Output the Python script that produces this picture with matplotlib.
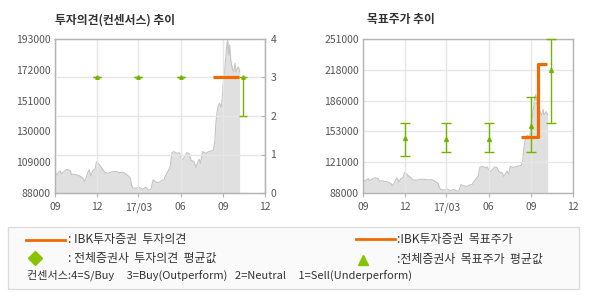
import numpy as np
import pandas as pd
import matplotlib
matplotlib.use("Agg")
import matplotlib.pyplot as plt
from matplotlib.lines import Line2D
from matplotlib.patches import Rectangle

plt.rcParams['font.family'] = ['Noto Sans CJK KR', 'DejaVu Sans']

# daily close
price_dates = [
    "2016-09-01", "2016-09-05", "2016-09-08", "2016-09-12", "2016-09-15", "2016-09-20",
    "2016-09-27", "2016-10-04", "2016-10-07", "2016-10-11", "2016-10-18", "2016-10-25",
    "2016-11-01", "2016-11-04", "2016-11-07", "2016-11-11", "2016-11-14", "2016-11-18",
    "2016-11-22", "2016-11-27", "2016-11-30", "2016-12-05", "2016-12-12", "2016-12-19",
    "2016-12-26", "2017-01-03", "2017-01-13", "2017-01-20", "2017-01-27", "2017-02-02",
    "2017-02-07", "2017-02-11", "2017-02-14", "2017-02-17", "2017-02-24", "2017-03-03",
    "2017-03-10", "2017-03-17", "2017-03-24", "2017-03-28", "2017-04-02", "2017-04-07",
    "2017-04-14", "2017-04-20", "2017-04-26", "2017-04-28", "2017-05-04", "2017-05-09",
    "2017-05-13", "2017-05-17", "2017-05-24", "2017-05-29", "2017-06-01", "2017-06-05",
    "2017-06-09", "2017-06-14", "2017-06-19", "2017-06-23", "2017-06-30", "2017-07-04",
    "2017-07-07", "2017-07-11", "2017-07-14", "2017-07-18", "2017-07-25", "2017-08-01",
    "2017-08-08", "2017-08-11", "2017-08-14", "2017-08-16", "2017-08-19", "2017-08-21",
    "2017-08-24", "2017-08-28", "2017-08-30", "2017-09-01", "2017-09-04", "2017-09-06",
    "2017-09-09", "2017-09-11", "2017-09-13", "2017-09-15", "2017-09-18", "2017-09-21",
    "2017-09-24", "2017-09-27", "2017-09-29", "2017-10-04", "2017-10-07",
]
price_values = [
    102500, 100300, 101800, 103200, 101000, 102500,
    104100, 103200, 100300, 101000, 100300, 99600,
    98000, 95700, 98000, 101800, 103900, 99600,
    103200, 104100, 109400, 107800, 104800, 101800,
    101500, 102500, 102500, 101800, 102200, 101000,
    99600, 98500, 93500, 91500, 91200, 91900,
    90500, 91900, 90000, 90300, 96900, 95700,
    95000, 96400, 97000, 99100, 102500, 105900,
    115500, 116200, 115000, 115500, 112700, 110500,
    112700, 115500, 115000, 110500, 109400, 105500,
    108200, 111000, 108200, 116200, 115000, 116200,
    116900, 117300, 123000, 134400, 143400, 146800,
    149200, 146800, 151400, 161600, 170700, 177500,
    188900, 192300, 182100, 188900, 177500, 173000,
    170700, 176400, 170700, 174100, 170700,
]

# IBK opinion / target price
ibk_dates = ["2017-08-10", "2017-09-16", "2017-10-05"]
ibk_opinion = [3, 3, 3]
ibk_target = [147000, 225000, 225000]

# consensus (all brokers)
cons_dates = ["2016-12-01", "2017-03-01", "2017-06-01", "2017-10-15"]
cons_op_mean = [3, 3, 3, 3]
cons_op_min = [3, 3, 3, 2]
cons_op_max = [3, 3, 3, 3]

tp_dates = ["2016-12-01", "2017-03-01", "2017-06-01", "2017-09-01", "2017-10-15"]
tp_mean = [146500, 145000, 145000, 158900, 218400]
tp_min = [127000, 131900, 131900, 131900, 161700]
tp_max = [161700, 161700, 161700, 189300, 251000]

tick_dates = ["2016-09-01", "2016-12-01", "2017-03-01", "2017-06-01", "2017-09-01", "2017-12-01"]
tick_labels = ["09", "12", "17/03", "06", "09", "12"]

ORANGE = "#f06a00"
GREEN = "#74b300"
SPINE = "#b4b4b4"
GRID = "#e6e6e6"
TXT = "#555555"

pd_x = pd.to_datetime(price_dates)
tx = pd.to_datetime(tick_dates)

fig = plt.figure(figsize=(5.9, 3.0), dpi=100)


def style_axes(ax, yticks, ylabels):
    ax.set_xlim(tx[0], tx[-1])
    ax.set_xticks(tx)
    ax.set_xticklabels(tick_labels)
    ax.set_yticks(yticks)
    ax.set_yticklabels(ylabels)
    for s in ax.spines.values():
        s.set_color(SPINE)
        s.set_linewidth(1)
    ax.tick_params(axis='both', colors=SPINE, labelcolor=TXT, labelsize=7.5, length=3, width=0.8)
    ax.tick_params(axis='y', length=0, pad=3)
    ax.set_axisbelow('line')


# ---- left: opinion ----
ax1 = fig.add_axes([55 / 590, 107 / 300, 210 / 590, 154 / 300])
ax1.fill_between(pd_x, price_values, 0, color="#e0e0e0", lw=0, zorder=1)
ax1.plot(pd_x, price_values, color="#c4c4c4", lw=0.8, zorder=1.2)
ax1.set_ylim(88000, 193000)
lt = np.linspace(88000, 193000, 6)
style_axes(ax1, lt, ["%d" % v for v in lt])
ax1.grid(axis='x', color=GRID, lw=1)

ax1b = ax1.twinx()
ax1b.set_ylim(0, 4)
ax1b.set_yticks([0, 1, 2, 3, 4])
ax1b.set_yticklabels(["0", "1", "2", "3", "4"])
for s in ax1b.spines.values():
    s.set_color(SPINE)
ax1b.tick_params(axis='y', colors=SPINE, labelcolor=TXT, labelsize=7.5, length=3, width=0.8, direction='in', pad=4)
for v in [1, 2, 3]:
    ax1b.axhline(v, color=GRID, lw=1, zorder=0.5)
cd = pd.to_datetime(cons_dates)
ax1b.errorbar(cd, cons_op_mean,
              yerr=[np.array(cons_op_mean) - np.array(cons_op_min),
                    np.array(cons_op_max) - np.array(cons_op_mean)],
              fmt='^', ms=2.5, color=GREEN, ecolor=GREEN, elinewidth=1, capsize=3.2, capthick=1, zorder=3)
ax1b.plot(pd.to_datetime(ibk_dates), ibk_opinion, color=ORANGE, lw=2.3, zorder=4, solid_capstyle='butt')

# ---- right: target price ----
ax2 = fig.add_axes([363 / 590, 107 / 300, 210 / 590, 154 / 300])
ax2.fill_between(pd_x, price_values, 0, color="#e0e0e0", lw=0, zorder=1)
ax2.plot(pd_x, price_values, color="#c4c4c4", lw=0.8, zorder=1.2)
ax2.set_ylim(88000, 251000)
rt = np.linspace(88000, 251000, 6)
style_axes(ax2, rt, ["%d" % (round(v / 1000) * 1000) for v in rt])
ax2.grid(color=GRID, lw=1)
td = pd.to_datetime(tp_dates)
ax2.errorbar(td, tp_mean,
             yerr=[np.array(tp_mean) - np.array(tp_min), np.array(tp_max) - np.array(tp_mean)],
             fmt='^', ms=2.8, color=GREEN, ecolor=GREEN, elinewidth=1, capsize=3.6, capthick=1,
             zorder=3, clip_on=False)
ax2.plot(pd.to_datetime(ibk_dates), ibk_target, color=ORANGE, lw=2.3, drawstyle='steps-post',
         zorder=4, solid_capstyle='butt')

# ---- titles ----
fig.text(55 / 590, 1 - 20 / 300, "투자의견(컨센서스) 추이", fontsize=8.5, fontweight='bold',
         color="#333333", va='center', ha='left')
fig.text(367 / 590, 1 - 20 / 300, "목표주가 추이", fontsize=8.5, fontweight='bold',
         color="#333333", va='center', ha='left')

# ---- legend box ----
W, H = 590.0, 300.0
fig.add_artist(Rectangle((8 / W, 1 - 289 / H), 571 / W, 62 / H, transform=fig.transFigure,
                         facecolor="#fafafa", edgecolor="#dcdcdc", lw=1))


def fx(px):
    return px / W


def fy(py):
    return 1 - py / H


fig.add_artist(Line2D([fx(26), fx(65)], [fy(240), fy(240)], color=ORANGE, lw=2, transform=fig.transFigure))
fig.add_artist(Line2D([fx(356), fx(395)], [fy(239), fy(239)], color=ORANGE, lw=2, transform=fig.transFigure))
fig.add_artist(Line2D([fx(35)], [fy(258)], marker='D', ms=7.5, color="#86c400", lw=0, transform=fig.transFigure))
fig.add_artist(Line2D([fx(363)], [fy(260)], marker='^', ms=7, color="#86c400", lw=0, transform=fig.transFigure))

lt_kw = dict(fontsize=8.6, color="#333333", va='center', ha='left')
fig.text(fx(68), fy(240), ": IBK투자증권  투자의견", **lt_kw)
fig.text(fx(68), fy(258), ": 전체증권사  투자의견  평균값", **lt_kw)
fig.text(fx(397), fy(239), ":IBK투자증권  목표주가", **lt_kw)
fig.text(fx(397), fy(259), ":전체증권사  목표주가  평균값", **lt_kw)
fig.text(fx(27), fy(275), "컨센서스:4=S/Buy     3=Buy(Outperform)   2=Neutral     1=Sell(Underperform)",
         fontsize=8, color="#333333", va='center', ha='left')

fig.savefig("out.png", dpi=100)
